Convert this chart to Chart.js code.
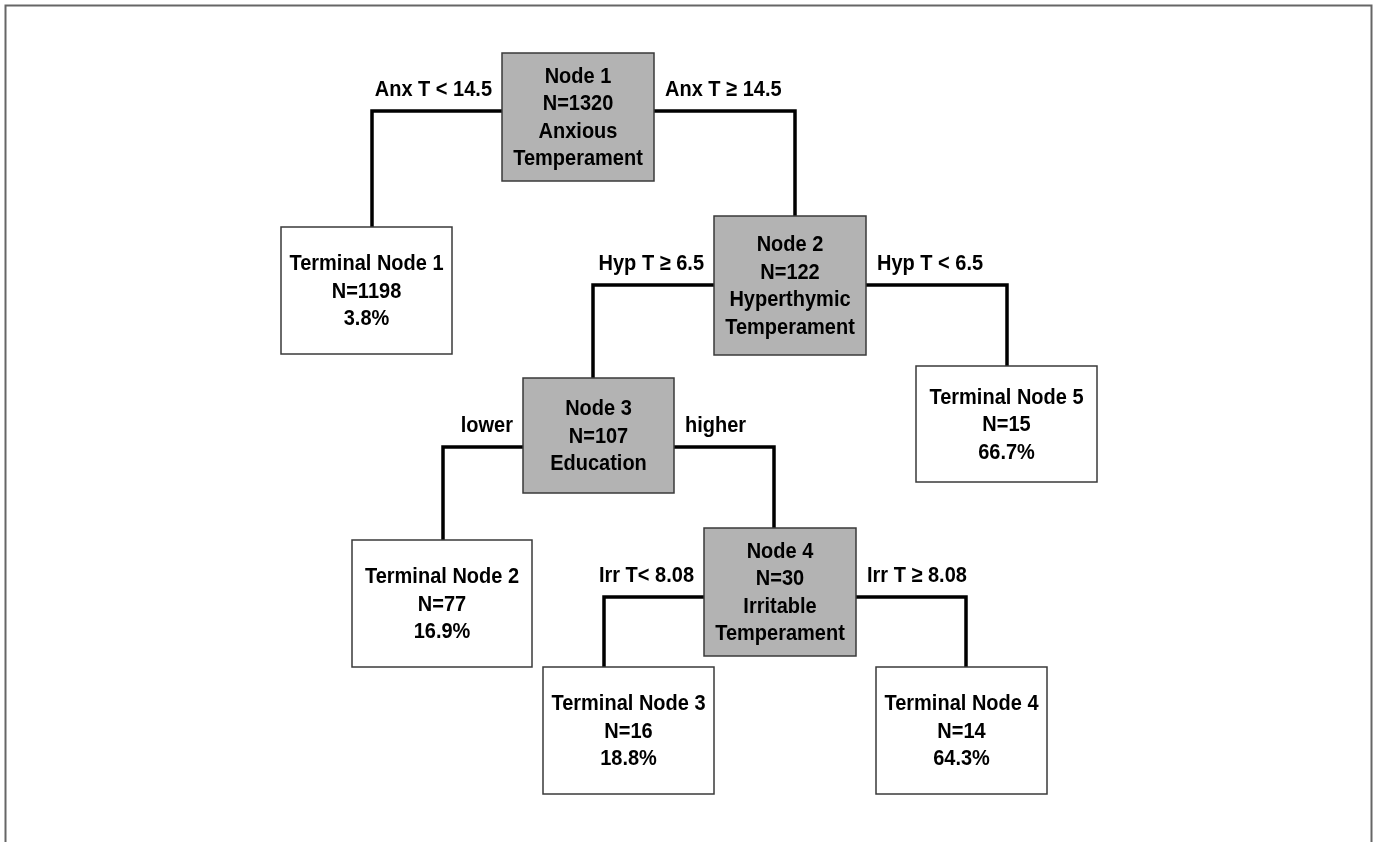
<!DOCTYPE html>
<html>
<head>
<meta charset="utf-8">
<script src="https://cdn.jsdelivr.net/npm/chart.js@4.4.0/dist/chart.umd.min.js"></script>
<style>
  html, body { margin: 0; padding: 0; background: #fff; }
</style>
</head>
<body>
<canvas id="treeChart" width="1373" height="842"></canvas>
<script>
// split nodes
const splitNames = ['Node 1', 'Node 2', 'Node 3', 'Node 4'];
const splitN = [1320, 122, 107, 30];
const splitVars = [['Anxious', 'Temperament'], ['Hyperthymic', 'Temperament'], ['Education'], ['Irritable', 'Temperament']];
const branchLabels = [
    ['Anx T < 14.5', 'Anx T \u2265 14.5'],
    ['Hyp T \u2265 6.5', 'Hyp T < 6.5'],
    ['lower', 'higher'],
    ['Irr T< 8.08', 'Irr T \u2265 8.08']
];

// terminal nodes
const terminalNames = ['Terminal Node 1', 'Terminal Node 2', 'Terminal Node 3', 'Terminal Node 4', 'Terminal Node 5'];
const terminalN = [1198, 77, 16, 14, 15];
const terminalPct = [3.8, 16.9, 18.8, 64.3, 66.7];

// layout of the tree in axis units: [left, right, top, bottom]
const splitBox = [[502, 654, 53, 181], [714, 866, 216, 355], [523, 674, 378, 493], [704, 856, 528, 656]];
const terminalBox = [[281, 452, 227, 354], [352, 532, 540, 667], [543, 714, 667, 794], [876, 1047, 667, 794], [916, 1097, 366, 482]];
const branchY = [111, 285, 447, 597];
const branchX = [[372, 795], [593, 1007], [443, 774], [604, 966]];
const childTop = [[227, 216], [378, 366], [540, 528], [667, 667]];

// connector datasets, elbow from box side to child top
const connectors = [];
branchY.forEach((y, i) => {
    const box = splitBox[i];
    connectors.push({
        data: [{x: box[0], y: y}, {x: branchX[i][0], y: y}, {x: branchX[i][0], y: childTop[i][0]}]
    });
    connectors.push({
        data: [{x: box[1], y: y}, {x: branchX[i][1], y: y}, {x: branchX[i][1], y: childTop[i][1]}]
    });
});

const FONT = 'bold 20px "Liberation Sans", Arial, sans-serif';
const LINE_GAP = 27.5;

const drawLines = (ctx, lines, cx, cy) => {
    ctx.font = FONT;
    ctx.textAlign = 'center';
    ctx.textBaseline = 'middle';
    ctx.fillStyle = '#000';
    let start = cy - (lines.length - 1) * LINE_GAP / 2;
    lines.forEach((t, k) => {
        ctx.save();
        ctx.translate(cx, start + k * LINE_GAP);
        ctx.scale(1, 1.12);
        ctx.fillText(t, 0, 0);
        ctx.restore();
    });
};

const treePlugin = {
    id: 'treeBoxes',
    beforeDraw(chart) {
        const ctx = chart.ctx;
        ctx.save();
        ctx.strokeStyle = '#666';
        ctx.lineWidth = 2;
        ctx.beginPath();
        ctx.moveTo(5.5, chart.height);
        ctx.lineTo(5.5, 5.5);
        ctx.lineTo(1371.5, 5.5);
        ctx.lineTo(1371.5, chart.height);
        ctx.stroke();
        ctx.restore();
    },
    afterDatasetsDraw(chart) {
        const ctx = chart.ctx;
        const xs = chart.scales.x, ys = chart.scales.y;
        const rect = (b, fill) => {
            const x0 = xs.getPixelForValue(b[0]), x1 = xs.getPixelForValue(b[1]);
            const y0 = ys.getPixelForValue(b[2]), y1 = ys.getPixelForValue(b[3]);
            ctx.fillStyle = fill;
            ctx.fillRect(x0, y0, x1 - x0, y1 - y0);
            ctx.strokeStyle = '#3a3a3a';
            ctx.lineWidth = 1.5;
            ctx.strokeRect(x0, y0, x1 - x0, y1 - y0);
            return [(x0 + x1) / 2, (y0 + y1) / 2, x0, x1];
        };
        ctx.save();
        splitBox.forEach((b, i) => {
            const c = rect(b, '#b3b3b3');
            drawLines(ctx, [splitNames[i], 'N=' + splitN[i]].concat(splitVars[i]), c[0], c[1] + 1);
            // branch labels
            const ly = ys.getPixelForValue(branchY[i]) - 21;
            ctx.font = FONT;
            ctx.textBaseline = 'middle';
            ctx.textAlign = 'right';
            ctx.save(); ctx.translate(c[2] - 10, ly); ctx.scale(1, 1.12);
            ctx.fillText(branchLabels[i][0], 0, 0); ctx.restore();
            ctx.textAlign = 'left';
            ctx.save(); ctx.translate(c[3] + 11, ly); ctx.scale(1, 1.12);
            ctx.fillText(branchLabels[i][1], 0, 0); ctx.restore();
        });
        terminalBox.forEach((b, i) => {
            const c = rect(b, '#ffffff');
            drawLines(ctx, [terminalNames[i], 'N=' + terminalN[i], terminalPct[i].toFixed(1) + '%'], c[0], c[1] + 1);
        });
        ctx.restore();
    }
};

let ctx = document.getElementById('treeChart').getContext('2d');
window.treeChart = new Chart(ctx, {
    type: 'scatter',
    data: {
        datasets: connectors.map(c => ({
            data: c.data,
            showLine: true,
            borderColor: '#000',
            borderWidth: 3.5,
            borderJoinStyle: 'miter',
            borderCapStyle: 'butt',
            pointRadius: 0,
            fill: false,
            tension: 0
        }))
    },
    options: {
        responsive: false,
        animation: false,
        layout: { padding: 0 },
        scales: {
            x: { type: 'linear', min: 0, max: 1373, display: false },
            y: { type: 'linear', min: 0, max: 842, reverse: true, display: false }
        },
        plugins: {
            legend: { display: false },
            tooltip: { enabled: false }
        }
    },
    plugins: [treePlugin]
});
</script>
</body>
</html>
